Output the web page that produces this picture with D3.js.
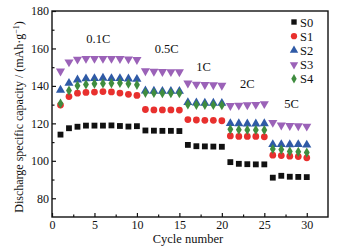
<!DOCTYPE html>
<html><head><meta charset="utf-8">
<script src="https://cdn.jsdelivr.net/npm/d3@7"></script>
<style>body{margin:0;background:#fff}svg{display:block}text{font-family:"Liberation Serif","Times New Roman",serif;fill:#111}</style>
</head><body>
<script>
const cycles = d3.range(1, 31);
const seriesNames = ["S0", "S1", "S2", "S3", "S4"];
const S0 = [114.0,117.4,118.2,118.8,118.8,118.8,118.9,118.6,118.3,118.5, 116.2,116.1,116.0,116.0,115.9, 108.5,107.8,107.7,107.6,107.5, 99.3,98.4,98.2,98.1,98.1, 91.0,92.0,91.5,91.4,91.3];
const S1 = [129.8,134.3,136.1,136.5,136.7,137.0,136.8,136.2,135.5,134.9, 127.4,127.2,127.2,127.2,127.1, 122.0,121.8,121.6,121.6,121.4, 113.3,113.0,113.0,113.0,112.8, 103.0,102.8,102.5,102.3,101.6];
const S2 = [138.2,141.9,143.7,144.3,144.4,144.6,144.4,144.4,144.2,144.0, 137.8,137.7,137.6,137.6,137.6, 131.6,131.4,131.3,131.3,131.2, 120.4,120.3,120.2,120.2,120.3, 109.2,109.2,109.1,109.2,108.9];
const S3 = [147.4,152.3,153.8,154.2,154.2,154.2,154.2,154.1,153.9,153.6, 147.6,147.3,147.2,147.1,147.0, 141.0,140.4,140.2,140.1,139.8, 129.0,129.2,129.4,129.6,130.0, 120.0,118.6,118.3,118.2,118.0];
const S4 = [130.6,137.5,140.1,140.8,141.2,141.3,141.4,141.6,141.2,140.6, 136.3,136.2,136.1,136.1,136.1, 130.1,129.9,129.9,129.8,129.7, 116.8,116.6,116.5,116.5,116.4, 106.3,106.0,105.0,104.8,104.4];
const rateLabels = ["0.1C", "0.5C", "1C", "2C", "5C"];
const rateLabelPos = [[5.45, 163], [13.5, 157.6], [17.85, 148.2], [23.0, 139], [28.2, 128.3]];
const xTicks = [0, 5, 10, 15, 20, 25, 30];
const yTicks = [80, 100, 120, 140, 160, 180];

const W = 346, H = 252;
const m = {l: 52, r: 18, t: 11, b: 35};
const svg = d3.select("body").append("svg").attr("width", W).attr("height", H);
const x = d3.scaleLinear().domain([0, 32.5]).range([m.l, W - m.r]);
const y = d3.scaleLinear().domain([70, 180]).range([H - m.b, m.t]);

const colors = ["#111111", "#e8302e", "#2f5aa6", "#9b62b8", "#3f8c3f"];
const symbols = [d3.symbolSquare, d3.symbolCircle, d3.symbolTriangle, d3.symbolTriangle, d3.symbolDiamond];
const sizes = [34, 36, 36, 36, 30];
const rot = [0, 0, 0, 180, 0];
const data = [S0, S1, S2, S3, S4];

// axes
svg.append("g").attr("transform", `translate(0,${H - m.b})`)
  .call(d3.axisBottom(x).tickValues(xTicks).tickSize(-4).tickPadding(3).tickFormat(d3.format("d")));
svg.append("g").attr("transform", `translate(0,${H - m.b})`)
  .call(d3.axisBottom(x).tickValues([2.5, 7.5, 12.5, 17.5, 22.5, 27.5]).tickSize(-2.5).tickFormat(""));
svg.append("g").attr("transform", `translate(${m.l},0)`)
  .call(d3.axisLeft(y).tickValues(yTicks).tickSize(-4).tickPadding(3));
svg.append("g").attr("transform", `translate(${m.l},0)`)
  .call(d3.axisLeft(y).tickValues([90, 110, 130, 150, 170]).tickSize(-2.5).tickFormat(""));
svg.selectAll(".domain").remove();
svg.selectAll(".tick line").attr("stroke", "#111").attr("stroke-width", 1.2);
svg.selectAll(".tick text").style("font-family", '"Liberation Serif",serif').style("font-size", "12px").attr("fill", "#111");

svg.append("rect").attr("x", m.l).attr("y", m.t).attr("width", W - m.r - m.l).attr("height", H - m.b - m.t)
  .attr("fill", "none").attr("stroke", "#111").attr("stroke-width", 1.4);

// points
data.forEach((vals, i) => {
  svg.append("g").selectAll("path").data(vals).join("path")
    .attr("d", d3.symbol().type(symbols[i]).size(sizes[i]))
    .attr("transform", (d, j) => `translate(${x(cycles[j])},${y(d) + (i === 2 ? 0.8 : i === 3 ? -0.8 : 0)}) rotate(${rot[i]})`)
    .attr("fill", colors[i]);
});

// rate labels
rateLabels.forEach((t, i) => {
  svg.append("text").attr("x", x(rateLabelPos[i][0])).attr("y", y(rateLabelPos[i][1]))
    .attr("text-anchor", "middle").style("font-size", "12.5px").text(t);
});

// legend
const lg = svg.append("g");
seriesNames.forEach((n, i) => {
  const yy = 22 + i * 14.2;
  lg.append("path").attr("d", d3.symbol().type(symbols[i]).size(sizes[i] * 0.85))
    .attr("transform", `translate(294,${yy}) rotate(${rot[i]})`).attr("fill", colors[i]);
  lg.append("text").attr("x", 300).attr("y", yy + 4.5).style("font-size", "12.5px").text(n);
});

// axis titles
svg.append("text").attr("x", x(16)).attr("y", 242.5).attr("text-anchor", "middle").style("font-size", "12.5px").text("Cycle number");
svg.append("text").attr("transform", `translate(23,${(m.t + H - m.b) / 2 + 3}) rotate(-90)`)
  .attr("text-anchor", "middle").style("font-size", "12px")
  .html('Discharge specific capacity / (mAh·g<tspan dy="-4" font-size="8px">−1</tspan><tspan dy="4">)</tspan>');
</script>
</body></html>
